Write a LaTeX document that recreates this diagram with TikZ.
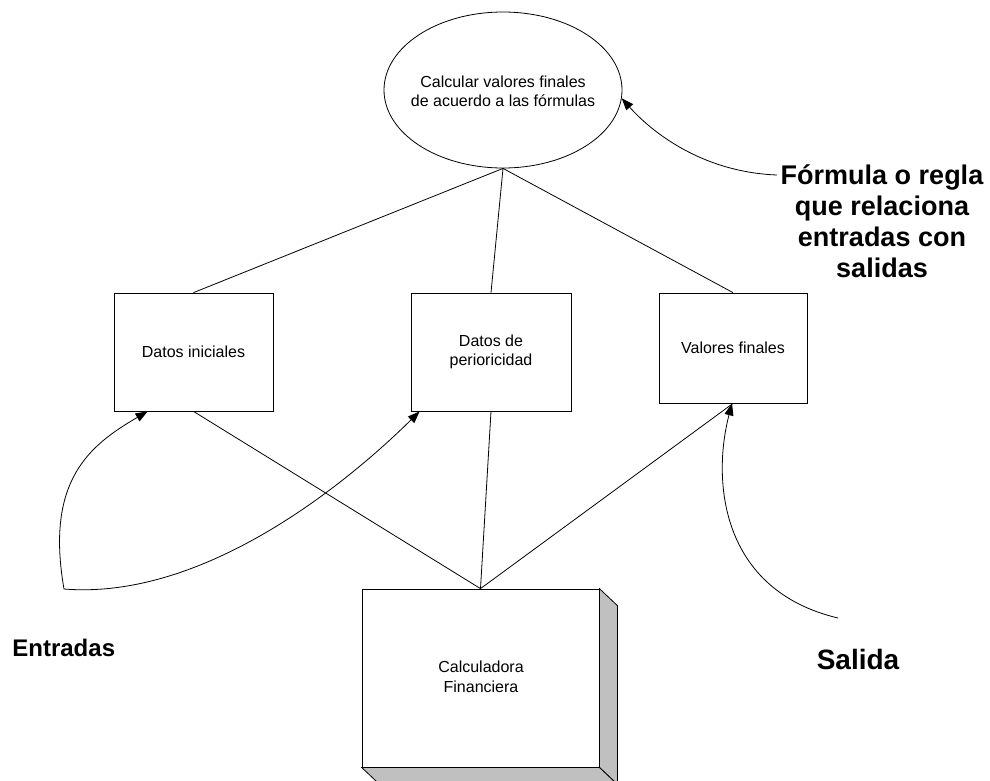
\documentclass[tikz,border=0pt]{standalone}
\usepackage{fontspec}
\setmainfont{Liberation Sans}
\usetikzlibrary{arrows.meta,shapes.geometric}
\definecolor{sidegray}{HTML}{C0C0C0}
\begin{document}
\begin{tikzpicture}[x=1pt,y=-1pt,line width=0.8pt,
  boxtxt/.style={font=\fontsize{16}{19.5}\selectfont,align=center},
  stepbox/.style={draw,rectangle,inner sep=0pt,boxtxt},
  biglbl/.style={font=\fontsize{#1}{31}\selectfont\bfseries,align=center,inner sep=0pt},
  conn/.style={line width=0.8pt},
  arr/.style={line width=0.8pt,-{Triangle[length=12pt,width=9pt]}}]
\useasboundingbox (0,0) rectangle (990,780);

% nodes
\node[draw,ellipse,inner sep=0pt,minimum width=238pt,minimum height=156pt,boxtxt] (ell) at (503,90) {};
\node[boxtxt] (elltxt) at (503,91.5) {Calcular valores finales\\de acuerdo a las fórmulas};
\node[stepbox,minimum width=159pt,minimum height=118pt] (ini) at (193.5,352) {Datos iniciales};
\node[stepbox,minimum width=160pt,minimum height=118pt] (per) at (491,352) {Datos de\\perioricidad};
\node[stepbox,minimum width=148pt,minimum height=110pt] (val) at (733,348) {Valores finales};

% 3D calculator box
\node[stepbox,minimum width=237pt,minimum height=178pt,fill=white] (calc) at (480.5,678) {};
\filldraw[fill=sidegray,line width=0.8pt] (calc.north east) -- ([shift={(18,17)}]calc.north east) -- ([shift={(18,17)}]calc.south east) -- (calc.south east) -- cycle;
\filldraw[fill=sidegray,line width=0.8pt] (calc.south west) -- ([shift={(18,17)}]calc.south west) -- ([shift={(18,17)}]calc.south east) -- (calc.south east) -- cycle;
\node[boxtxt] (calctxt) at (481,677) {Calculadora\\Financiera};

% connectors
\draw[conn] (ell.south) -- (ini.north);
\draw[conn] (ell.south) -- (per.north);
\draw[conn] (ell.south) -- (val.north);
\draw[conn] (calc.north) -- (ini.south);
\draw[conn] (calc.north) -- (per.south);
\draw[conn] (calc.north) -- (val.south);

% labels
\node[biglbl=27] (formula) at (882,221) {Fórmula o regla\\que relaciona\\entradas con\\salidas};
\node[biglbl=24,anchor=west] (entradas) at (12,648) {Entradas};
\node[biglbl=28] (salida) at (858,659) {Salida};

% curved arrows
\coordinate (ejoin) at (64,589);
\coordinate (fstart) at (777,175);
\coordinate (sstart) at (838,618);
\draw[arr] (ejoin) .. controls (45,480) and (90,445) .. ([xshift=34pt]ini.south west);
\draw[arr] (ejoin) .. controls (200,600) and (340,490) .. ([xshift=9pt]per.south west);
\draw[arr] (sstart) .. controls (720,590) and (712,480) .. ([xshift=-1pt]val.south);
\draw[arr] (fstart) .. controls (700,172) and (650,130) .. (ell.-4);
\end{tikzpicture}
\end{document}
